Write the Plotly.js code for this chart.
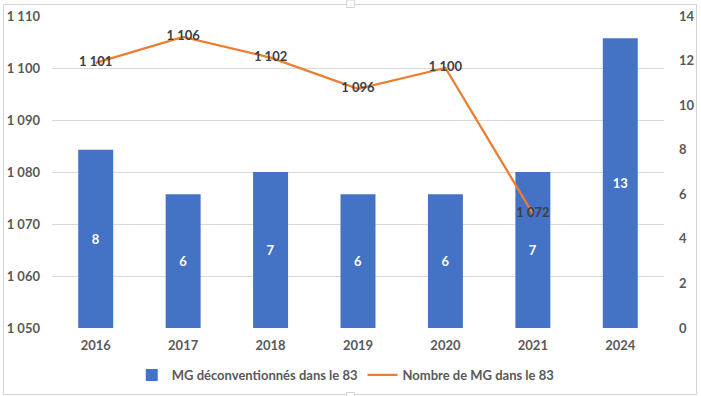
<!DOCTYPE html>
<html><head><meta charset="utf-8">
<script src="https://cdn.plot.ly/plotly-3.0.1.min.js"></script>
<style>html,body{margin:0;padding:0;background:#fff;}#c{width:701px;height:396px;}</style>
</head><body><div id="c"></div>
<script>
const years = ['2016','2017','2018','2019','2020','2021','2024'];
const deconv = [8, 6, 7, 6, 6, 7, 13];
const lineYears = ['2016','2017','2018','2019','2020','2021'];
const nombreMG = [1101, 1106, 1102, 1096, 1100, 1072];

const fmt = v => String(v).replace(/\B(?=(\d{3})+(?!\d))/g, ' ');
const FONT = 'Lato, "Open Sans", sans-serif';
const GRAY = '#595959';
const TICKFONT = {size: 13, color: GRAY, family: FONT, weight: 'bold'};

const bars = {
  type: 'bar', x: years, y: deconv, yaxis: 'y',
  name: 'MG déconventionnés dans le 83',
  marker: {color: '#4472C4'},
  text: deconv.map(String), textposition: 'inside', insidetextanchor: 'middle',
  textfont: {color: '#ffffff', size: 13, family: FONT, weight: 'bold'},
  hoverinfo: 'x+y'
};
const line = {
  type: 'scatter', mode: 'lines+text', x: lineYears, y: nombreMG, yaxis: 'y2',
  name: 'Nombre de MG dans le 83',
  line: {color: '#ED7D31', width: 2.25},
  text: nombreMG.map(fmt), textposition: 'middle center',
  textfont: {color: '#404040', size: 13, family: FONT, weight: 'bold'},
  cliponaxis: false
};

// frame in pixel units converted to paper fractions (plot area 52..664 x 16..328)
const px = x => (x - 52) / 612;
const py = y => (328 - y) / 312;

const layout = {
  width: 701, height: 396,
  margin: {l: 52, r: 37, t: 16, b: 68},
  paper_bgcolor: '#fff', plot_bgcolor: '#fff',
  font: {family: FONT, color: GRAY, size: 13},
  separators: '. ',
  bargap: 0.6,
  showlegend: true,
  legend: {orientation: 'h', x: 0.48, xanchor: 'center', yref: 'container', y: 0.053, yanchor: 'middle',
           font: {size: 13, color: GRAY, family: FONT, weight: 'bold'}, traceorder: 'normal'},
  xaxis: {type: 'category', categoryorder: 'array', categoryarray: years,
          showline: false, ticks: '', tickfont: TICKFONT,
          ticklabelstandoff: 8, showgrid: false, zeroline: false},
  yaxis: {range: [0, 14], dtick: 2, side: 'right', showgrid: false,
          zeroline: false, showline: false, ticks: '',
          tickfont: TICKFONT, ticklabelstandoff: 14},
  yaxis2: {range: [1050, 1110], dtick: 10, tick0: 1050, separatethousands: true,
          overlaying: 'y', side: 'left',
          showgrid: true, gridcolor: '#d9d9d9', gridwidth: 1, zeroline: false,
          showline: false, ticks: '', tickfont: TICKFONT, ticklabelstandoff: 11},
  shapes: [
    {type: 'rect', xref: 'paper', yref: 'paper', x0: px(3.5), x1: px(696.5), y0: py(394.5), y1: py(4.5),
     line: {color: '#d4d4d4', width: 1}, fillcolor: 'rgba(0,0,0,0)', layer: 'below'},
    {type: 'rect', xref: 'paper', yref: 'paper', x0: px(346.5), x1: px(354.5), y0: py(7.5), y1: py(0),
     line: {color: '#d4d4d4', width: 1}, fillcolor: '#ffffff', layer: 'above'},
    {type: 'rect', xref: 'paper', yref: 'paper', x0: px(346.5), x1: px(354.5), y0: py(398), y1: py(392.5),
     line: {color: '#d4d4d4', width: 1}, fillcolor: '#ffffff', layer: 'above'}
  ]
};
Plotly.newPlot('c', [bars, line], layout, {displayModeBar: false, staticPlot: true});
</script></body></html>
